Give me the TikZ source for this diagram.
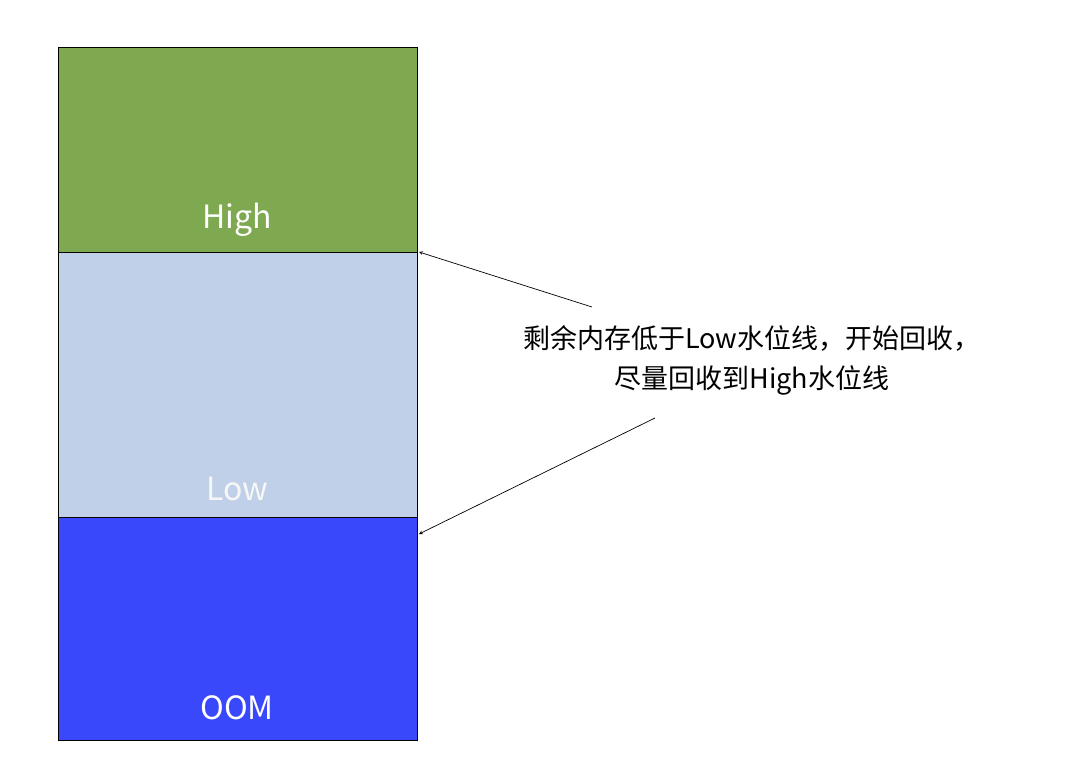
\documentclass[tikz,border=0pt]{standalone}
\usepackage{fontspec}
\setmainfont{Noto Sans CJK SC}
\definecolor{hg}{HTML}{7EA950}
\definecolor{lb}{HTML}{C0D0E8}
\definecolor{bb}{HTML}{3A48FB}
\begin{document}
\begin{tikzpicture}[x=1pt,y=-1pt,
  band/.style={draw=black,line width=0.8pt},
  lab/.style={text=white,font=\fontsize{32}{36}\selectfont},
  note/.style={font=\fontsize{27}{40}\selectfont,align=center},
  arr/.style={-stealth,line width=0.7pt}]
\useasboundingbox[fill=white] (0,0) rectangle (1080,774);
\fill[hg] (58,47) rectangle (417,252);
\fill[lb] (58,252) rectangle (417,517);
\fill[bb] (58,517) rectangle (417,740);
\draw[band] (58,47) rectangle (417,740);
\draw[band] (58,252) -- (417,252);
\draw[band] (58,517) -- (417,517);
\node[lab] (h) at (237,220) {High};
\node[lab,text=white!97!black] (l) at (237,489) {Low};
\node[lab] (o) at (237,708) {OOM};
\coordinate (hp) at (419,252);
\coordinate (lp) at (419,534);
\node[note] (n) at (752,360) {剩余内存低于Low水位线，开始回收，\\尽量回收到High水位线};
\coordinate (a1) at (592,307);
\coordinate (a2) at (655,418);
\draw[arr] (a1) -- (hp);
\draw[arr] (a2) -- (lp);
\end{tikzpicture}
\end{document}
